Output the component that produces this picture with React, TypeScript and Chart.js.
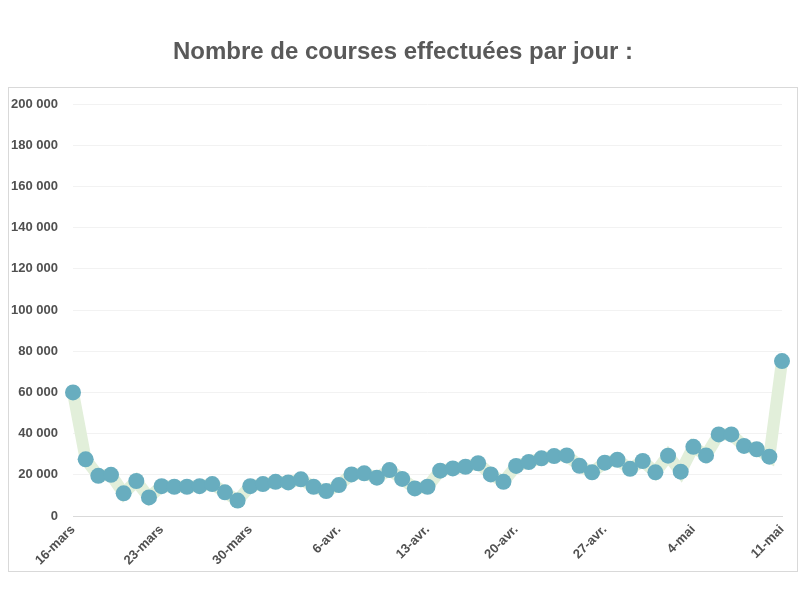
import React, { useEffect, useRef } from "react";
import { Chart, registerables } from "chart.js";

Chart.register(...registerables);

const dates: string[] = [
  "16-mars", "17-mars", "18-mars", "19-mars", "20-mars", "21-mars", "22-mars", "23-mars",
  "24-mars", "25-mars", "26-mars", "27-mars", "28-mars", "29-mars", "30-mars", "31-mars",
  "1-avr.", "2-avr.", "3-avr.", "4-avr.", "5-avr.", "6-avr.", "7-avr.", "8-avr.",
  "9-avr.", "10-avr.", "11-avr.", "12-avr.", "13-avr.", "14-avr.", "15-avr.", "16-avr.",
  "17-avr.", "18-avr.", "19-avr.", "20-avr.", "21-avr.", "22-avr.", "23-avr.", "24-avr.",
  "25-avr.", "26-avr.", "27-avr.", "28-avr.", "29-avr.", "30-avr.", "1-mai", "2-mai",
  "3-mai", "4-mai", "5-mai", "6-mai", "7-mai", "8-mai", "9-mai", "10-mai", "11-mai",
];

const shownTicks: string[] = [
  "16-mars", "23-mars", "30-mars", "6-avr.", "13-avr.", "20-avr.", "27-avr.", "4-mai", "11-mai",
];

const courses: number[] = [
  60000, 27500, 19500, 20000, 11000, 17000, 9000, 14500, 14200, 14200, 14500, 15500, 11500, 7500,
  14500, 15500, 16600, 16300, 17800, 14200, 12100, 15000, 20200, 20700, 18600, 22300, 18000, 13400,
  14200, 22000, 23100, 23900, 25600, 20200, 16600, 24300, 26200, 28000, 29100, 29400, 24400, 21200,
  25900, 27300, 22900, 26700, 21200, 29300, 21500, 33600, 29400, 39600, 39600, 34000, 32400, 28800,
  75200,
];

const yTicks: number[] = [0, 20000, 40000, 60000, 80000, 100000, 120000, 140000, 160000, 180000, 200000];

const TITLE = "Nombre de courses effectuées par jour :";

const fmt = (v: number) => String(v).replace(/\B(?=(\d{3})+(?!\d))/g, " ");

const boxPlugin = {
  id: "outerBox",
  beforeDraw(chart: any) {
    const ctx = chart.ctx;
    ctx.save();
    ctx.fillStyle = "#ffffff";
    ctx.fillRect(0, 0, chart.width, chart.height);
    ctx.strokeStyle = "#d9d9d9";
    ctx.lineWidth = 1;
    ctx.strokeRect(8.5, 87.5, 789, 484);
    ctx.fillStyle = "#595959";
    ctx.font = "bold 24px 'Liberation Sans', Arial, sans-serif";
    ctx.textAlign = "center";
    ctx.textBaseline = "middle";
    ctx.fillText(TITLE, 403, 52);
    ctx.restore();
  },
};

export default function App() {
  const ref = useRef<HTMLCanvasElement | null>(null);

  useEffect(() => {
    if (!ref.current) return;
    const chart = new Chart(ref.current, {
      type: "line",
      data: {
        labels: dates,
        datasets: [
          {
            label: "Courses",
            data: courses,
            borderColor: "#e2efda",
            borderWidth: 12,
            tension: 0,
            fill: false,
            pointRadius: 8,
            pointBackgroundColor: "#68adbf",
            pointBorderWidth: 0,
            pointBorderColor: "#68adbf",
            pointHoverRadius: 8,
          },
        ],
      },
      options: {
        animation: false,
        responsive: true,
        maintainAspectRatio: false,
        layout: { padding: { left: 8, right: 18, top: 104, bottom: 0 } },
        plugins: {
          legend: { display: false },
          tooltip: { enabled: false },
          title: { display: false },
        },
        scales: {
          x: {
            type: "category",
            offset: false,
            grid: { display: false, drawTicks: false },
            border: { display: true, color: "#d9d9d9", width: 1 },
            afterFit: (scale: any) => {
              scale.height = 84;
            },
            ticks: {
              autoSkip: false,
              maxRotation: 45,
              minRotation: 45,
              padding: 6,
              color: "#505050",
              font: { family: "'Liberation Sans', Arial, sans-serif", size: 13, weight: "bold" },
              callback: function (this: any, _v: any, idx: number) {
                const l = dates[idx];
                return shownTicks.includes(l) ? l : "";
              },
            },
          },
          y: {
            min: 0,
            max: 200000,
            grid: { color: "#f2f2f2", drawTicks: false, lineWidth: 1 },
            border: { display: false },
            afterFit: (scale: any) => {
              scale.width = 65;
            },
            afterBuildTicks: (scale: any) => {
              scale.ticks = yTicks.map((v) => ({ value: v }));
            },
            ticks: {
              padding: 15,
              color: "#505050",
              font: { family: "'Liberation Sans', Arial, sans-serif", size: 13, weight: "bold" },
              callback: (v: any) => fmt(Number(v)),
            },
          },
        },
      },
      plugins: [boxPlugin],
    });
    return () => chart.destroy();
  }, []);

  return (
    <div style={{ position: "absolute", left: 0, top: 0, width: 800, height: 600 }}>
      <canvas ref={ref} />
    </div>
  );
}
